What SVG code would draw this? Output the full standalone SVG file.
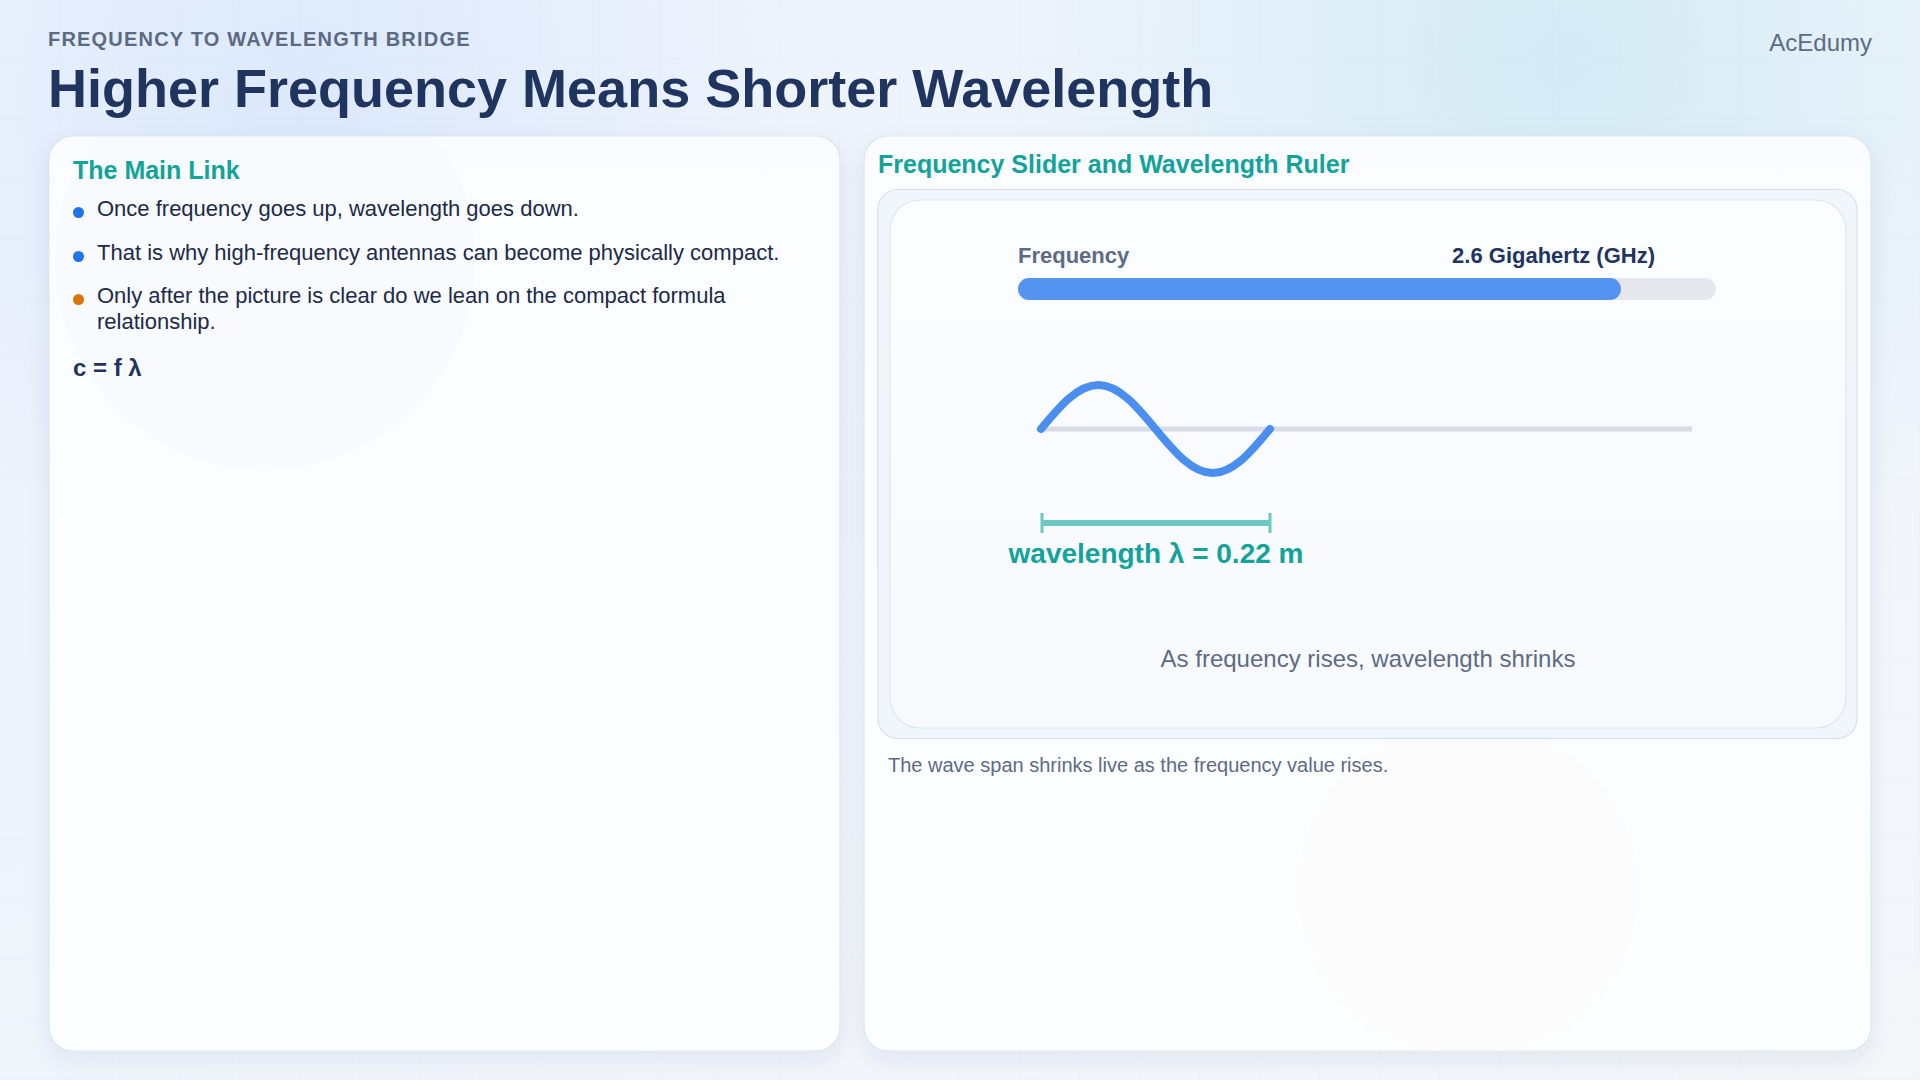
<svg xmlns="http://www.w3.org/2000/svg" width="1920" height="1080" viewBox="0 0 1920 1080">
  <defs>
    <linearGradient id="bg" x1="0" y1="0" x2="1" y2="1">
      <stop offset="0" stop-color="#ebf2fc"/>
      <stop offset="0.6" stop-color="#f1f5fb"/>
      <stop offset="1" stop-color="#f4f6fa"/>
    </linearGradient>
    <radialGradient id="glowTR" cx="1560" cy="60" r="560" gradientUnits="userSpaceOnUse">
      <stop offset="0" stop-color="#d4ebf5"/>
      <stop offset="1" stop-color="#d4ebf5" stop-opacity="0"/>
    </radialGradient>
    <radialGradient id="glowTL" cx="300" cy="120" r="480" gradientUnits="userSpaceOnUse">
      <stop offset="0" stop-color="#dce8fb"/>
      <stop offset="1" stop-color="#dce8fb" stop-opacity="0"/>
    </radialGradient>
    <pattern id="grid" width="60" height="60" patternUnits="userSpaceOnUse">
      <path d="M60 0 V60 M0 60 H60" fill="none" stroke="#b9c9df" stroke-opacity="0.18" stroke-width="1"/>
    </pattern>
    <linearGradient id="panelFill" x1="0" y1="0" x2="0" y2="1">
      <stop offset="0" stop-color="#fbfcff"/>
      <stop offset="1" stop-color="#fdfeff"/>
    </linearGradient>
    <linearGradient id="cardFill" x1="0" y1="0" x2="0" y2="1">
      <stop offset="0" stop-color="#fcfdff"/>
      <stop offset="1" stop-color="#f7f9fd"/>
    </linearGradient>
    <clipPath id="clipLeft"><rect x="49" y="136" width="791" height="915" rx="24"/></clipPath>
    <clipPath id="clipRight"><rect x="864" y="136" width="1007" height="915" rx="24"/></clipPath>
    <filter id="shadow" x="-10%" y="-10%" width="120%" height="125%">
      <feDropShadow dx="0" dy="8" stdDeviation="10" flood-color="#1e3a6e" flood-opacity="0.08"/>
    </filter>
  </defs>
  <style>
    .sans { font-family: "Liberation Sans", Arial, sans-serif; }
    .kicker { font-size: 20px; font-weight: 700; fill: #5b6a84; letter-spacing: 1.2px; }
    .title { font-size: 54px; font-weight: 700; fill: #1f3560; }
    .brand { font-size: 24px; fill: #5d6b85; }
    .panel { fill: url(#panelFill); stroke: #dde5f0; stroke-width: 1.2; }
    .head { font-size: 25px; font-weight: 700; fill: #12a39a; }
    .body { font-size: 22px; fill: #1c2a48; }
    .formula { font-size: 24px; font-weight: 700; fill: #1f3560; }
    .label { font-size: 22px; font-weight: 700; fill: #5d6b85; }
    .value { font-size: 22px; font-weight: 700; fill: #1f3560; }
    .wl { font-size: 28px; font-weight: 700; fill: #12a39a; }
    .note { font-size: 24px; fill: #5d6b85; }
    .caption { font-size: 20px; fill: #5d6b85; }
  </style>

  <!-- background -->
  <rect width="1920" height="1080" fill="url(#bg)"/>
  <rect width="1920" height="1080" fill="url(#glowTL)"/>
  <rect width="1920" height="1080" fill="url(#glowTR)"/>
  <rect width="1920" height="1080" fill="url(#grid)"/>

  <!-- header -->
  <g id="header">
    <text x="48" y="46" class="sans kicker">FREQUENCY TO WAVELENGTH BRIDGE</text>
    <text x="48" y="107" class="sans title">Higher Frequency Means Shorter Wavelength</text>
    <text x="1872" y="51" text-anchor="end" class="sans brand">AcEdumy</text>
  </g>

  <!-- left panel -->
  <g id="main-link">
    <rect x="49" y="136" width="791" height="915" rx="24" class="panel" filter="url(#shadow)"/>
    <circle cx="265" cy="260" r="210" fill="#eef3fb" opacity="0.25" clip-path="url(#clipLeft)"/>
    <text x="73" y="179" class="sans head">The Main Link</text>
    <circle cx="78.5" cy="212.5" r="5.5" fill="#2174ea"/>
    <text x="97" y="216" class="sans body">Once frequency goes up, wavelength goes down.</text>
    <circle cx="78.5" cy="256.5" r="5.5" fill="#2174ea"/>
    <text x="97" y="260" class="sans body">That is why high-frequency antennas can become physically compact.</text>
    <circle cx="78.5" cy="299.5" r="5.5" fill="#da7609"/>
    <text x="97" y="303" class="sans body">Only after the picture is clear do we lean on the compact formula</text>
    <text x="97" y="329" class="sans body">relationship.</text>
    <text x="73" y="376" class="sans formula">c = f λ</text>
  </g>

  <!-- right panel -->
  <g id="slider-ruler">
    <rect x="864" y="136" width="1007" height="915" rx="24" class="panel" filter="url(#shadow)"/>
    <circle cx="1468" cy="890" r="170" fill="#fbf9f5" opacity="0.35" clip-path="url(#clipRight)"/>
    <text x="878" y="173" class="sans head">Frequency Slider and Wavelength Ruler</text>
    <rect x="878" y="189.5" width="979" height="549" rx="20" fill="#f1f6fd" stroke="#d5e0ee" stroke-width="1.2"/>
    <rect x="890" y="200" width="956" height="528" rx="30" fill="url(#cardFill)" stroke="#dfe6f0" stroke-width="1.2"/>
    <text x="888" y="772" class="sans caption">The wave span shrinks live as the frequency value rises.</text>
  </g>

  <g id="frequency-slider">
    <text x="1018" y="263" class="sans label">Frequency</text>
    <text x="1655" y="263" text-anchor="end" class="sans value">2.6 Gigahertz (GHz)</text>
    <rect x="1018" y="278" width="698" height="22" rx="11" fill="#e6e8ee"/>
    <rect x="1018" y="278" width="603" height="22" rx="11" fill="#5594f0"/>
  </g>

  <g id="wave">
    <line x1="1041" y1="429" x2="1692" y2="429" stroke="#d8dce6" stroke-width="5"/>
    <path d="M1041,429 C1059.67,406.46 1077.53,385 1098.25,385 C1118.97,385 1136.83,406.46 1155.5,429 C1174.17,451.54 1192.03,473 1212.75,473 C1233.47,473 1251.33,451.54 1270,429" fill="none" stroke="#4a8ef0" stroke-width="8" stroke-linecap="round"/>
  </g>

  <g id="wavelength-ruler">
    <line x1="1042" y1="523" x2="1270" y2="523" stroke="#6cc9c2" stroke-width="6"/>
    <line x1="1042" y1="513" x2="1042" y2="533" stroke="#6cc9c2" stroke-width="3"/>
    <line x1="1270" y1="513" x2="1270" y2="533" stroke="#6cc9c2" stroke-width="3"/>
    <text x="1156" y="563" text-anchor="middle" class="sans wl">wavelength λ = 0.22 m</text>
    <text x="1368" y="667" text-anchor="middle" class="sans note">As frequency rises, wavelength shrinks</text>
  </g>
</svg>
